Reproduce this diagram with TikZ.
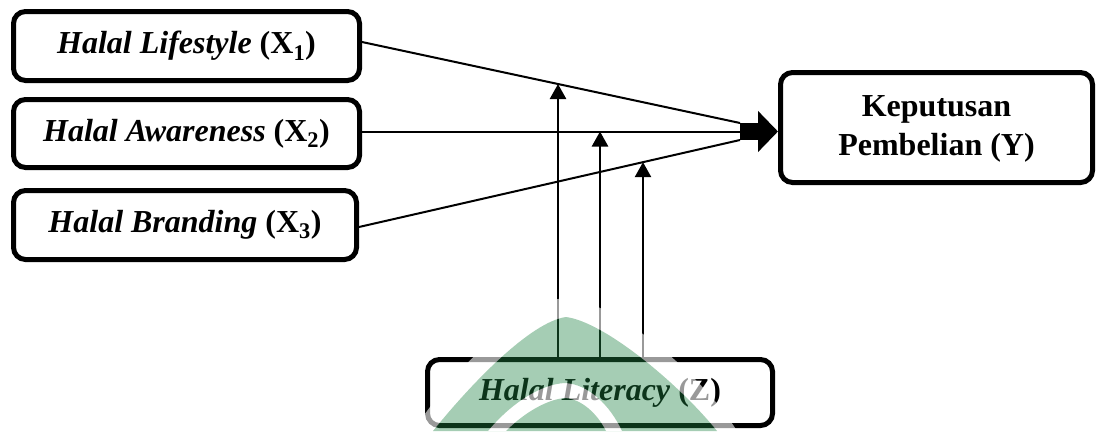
\documentclass[tikz,border=0pt]{standalone}
\usepackage{fontspec}
\setmainfont{Liberation Serif}
\usetikzlibrary{arrows.meta,intersections,calc}
\definecolor{wmgreen}{RGB}{30,130,67}
\begin{document}
\begin{tikzpicture}[x=1pt,y=-1pt,
  box/.style={draw, line width=5pt, rounded corners=12pt, align=center,
    font=\fontsize{32}{41}\selectfont\bfseries, inner sep=0pt},
  link/.style={line width=2pt},
  varrow/.style={line width=2.5pt, -{Triangle[length=15pt,width=16pt]}},
  bigarrow/.style={line width=17pt, -{Triangle[length=20pt,width=40pt]}},
]
\useasboundingbox (0,0) rectangle (1100,431);

\node[box, minimum width=346pt, minimum height=69pt] (X1) at (186.5,46)
  {\textit{Halal Lifestyle} (X\textsubscript{1})};
\node[box, minimum width=346pt, minimum height=68pt] (X2) at (186.5,133.5)
  {\textit{Halal Awareness} (X\textsubscript{2})};
\node[box, minimum width=343pt, minimum height=69pt] (X3) at (185,225)
  {\textit{Halal Branding} (X\textsubscript{3})};
\node[box, minimum width=312pt, minimum height=110pt] (Y) at (936.5,127.5)
  {\raisebox{-4pt}{\begin{tabular}{@{}c@{}}Keputusan\\[-2pt]Pembelian (Y)\end{tabular}}};
\node[box, minimum width=345pt, minimum height=66pt] (Z) at (600,392.5)
  {\textit{Halal Literacy} (Z)};

\coordinate (s1) at ($(X1.east)+(0,-4)$);
\coordinate (s3) at ($(X3.east)+(0,2)$);
\coordinate (hub) at (740,131.5);
\coordinate (h1) at (740,123);
\coordinate (h3) at (740,140);

\draw[link, name path=L1] (s1) -- (h1);
\draw[link, name path=L2] (X2.east |- hub) -- (hub);
\draw[link, name path=L3] (s3) -- (h3);
\draw[bigarrow] (hub) -- (hub -| Y.west);

\path[name path=V1] (558,0) -- (558,431);
\path[name path=V2] (600,0) -- (600,431);
\path[name path=V3] (643,0) -- (643,431);
\path[name intersections={of=L1 and V1, by=m1}];
\path[name intersections={of=L2 and V2, by=m2}];
\path[name intersections={of=L3 and V3, by=m3}];
\draw[varrow] (Z.north -| m1) -- (m1);
\draw[varrow] (Z.north -| m2) -- (m2);
\draw[varrow] (Z.north -| m3) -- (m3);

% watermark
\fill[white, fill opacity=0.6, even odd rule]
  (413,431) .. controls (452,372) and (522,300) .. (566,298)
            .. controls (612,300) and (700,372) .. (737,431) -- cycle
  (433,431) .. controls (470,385) and (530,322) .. (566,317)
            .. controls (605,322) and (680,385) .. (717,431) -- cycle
  (488,431) .. controls (512,402) and (542,384) .. (565,383)
            .. controls (588,384) and (610,405) .. (622,431) -- cycle
  (506,431) .. controls (527,410) and (550,399) .. (565,398)
            .. controls (581,399) and (597,413) .. (606,431) -- cycle;
\fill[wmgreen, fill opacity=0.4, even odd rule]
  (433,431) .. controls (470,385) and (530,322) .. (566,317)
            .. controls (605,322) and (680,385) .. (717,431) -- cycle
  (488,431) .. controls (512,402) and (542,384) .. (565,383)
            .. controls (588,384) and (610,405) .. (622,431) -- cycle
  (506,431) .. controls (527,410) and (550,399) .. (565,398)
            .. controls (581,399) and (597,413) .. (606,431) -- cycle;
\end{tikzpicture}
\end{document}
